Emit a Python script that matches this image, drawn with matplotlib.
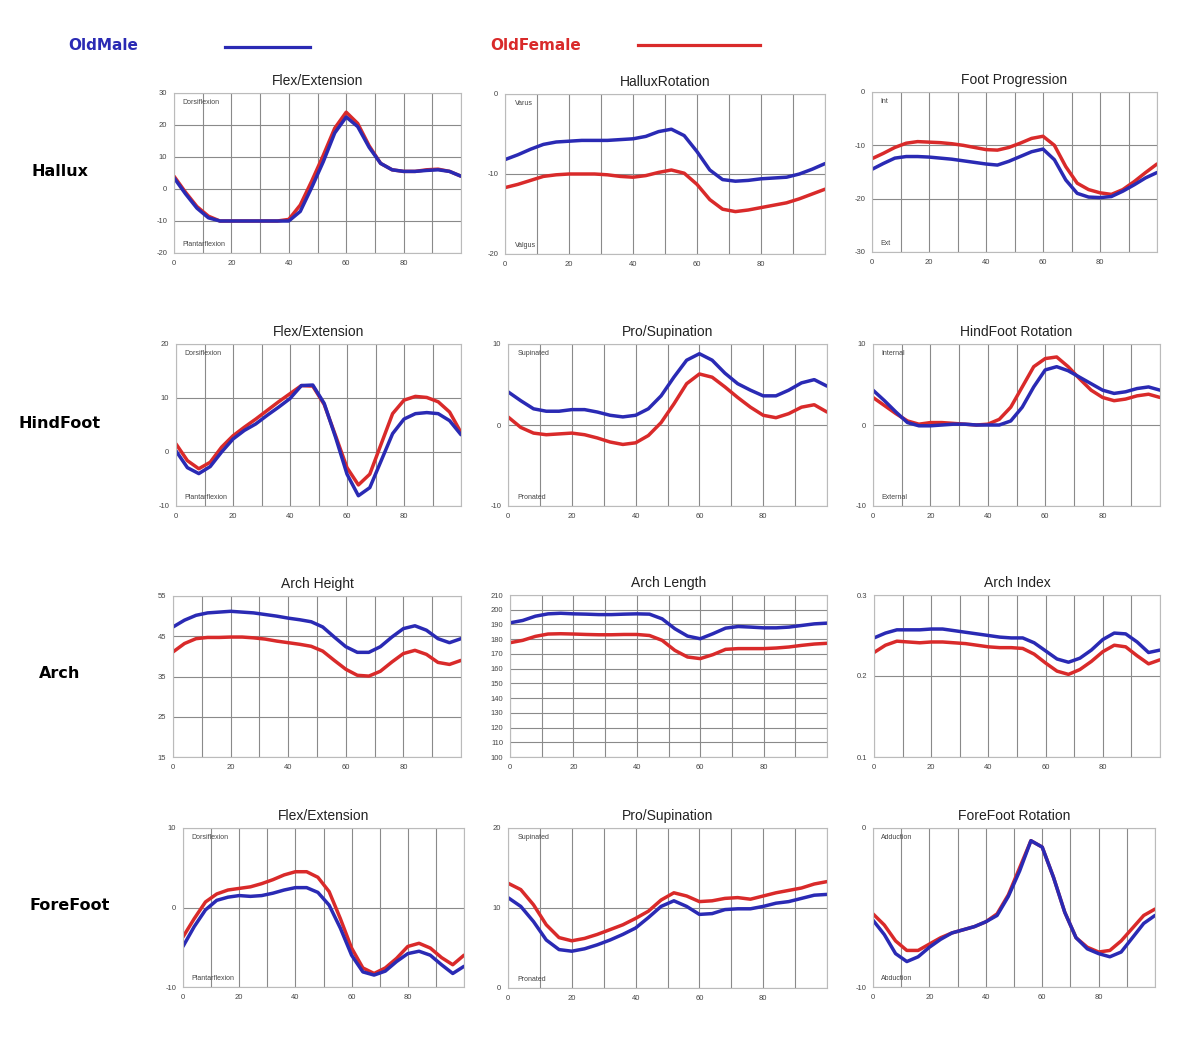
import matplotlib.pyplot as plt
from matplotlib.ticker import FuncFormatter

# gait cycle (%)
x = list(range(0, 101, 4))

# ---- Hallux ----
hallux_flex_male = [3.5, -1.5, -6, -9, -10, -10, -10, -10, -10, -10, -10, -7, 0.5, 8.5, 17.5, 22.5,
                    19.5, 13, 8, 6, 5.5, 5.5, 5.8, 6, 5.5, 4]
hallux_flex_female = [4, -1, -5.5, -8.5, -10, -10, -10, -10, -10, -10, -9.5, -5, 2.5, 10.5, 19, 24,
                      20.5, 13.5, 8, 6, 5.5, 5.5, 6, 6.2, 5.5, 4]
hallux_rot_male = [-8.2, -7.6, -6.9, -6.3, -6.0, -5.9, -5.8, -5.8, -5.8, -5.7, -5.6, -5.3, -4.7, -4.4,
                   -5.2, -7.2, -9.5, -10.7, -10.9, -10.8, -10.6, -10.5, -10.4, -10.0, -9.4, -8.7]
hallux_rot_female = [-11.7, -11.3, -10.8, -10.3, -10.1, -10.0, -10.0, -10.0, -10.1, -10.3, -10.4, -10.2,
                     -9.8, -9.5, -9.9, -11.3, -13.2, -14.4, -14.7, -14.5, -14.2, -13.9, -13.6, -13.1,
                     -12.5, -11.9]
foot_prog_male = [-14.5, -13.4, -12.4, -12.1, -12.1, -12.2, -12.4, -12.6, -12.9, -13.2, -13.5, -13.7,
                  -13.0, -12.1, -11.2, -10.7, -12.7, -16.5, -19.0, -19.7, -19.8, -19.6, -18.6, -17.4,
                  -16.1, -15.1]
foot_prog_female = [-12.5, -11.5, -10.4, -9.6, -9.3, -9.4, -9.5, -9.7, -10.0, -10.4, -10.8, -10.9,
                    -10.4, -9.6, -8.7, -8.3, -10.0, -14.0, -17.1, -18.3, -18.9, -19.2, -18.3, -16.8,
                    -15.1, -13.5]

# ---- HindFoot ----
hind_flex_male = [0.2, -2.9, -4.0, -2.7, 0, 2.4, 4.0, 5.2, 6.8, 8.3, 9.9, 12.3, 12.4, 9.0, 2.7, -4.1,
                  -8.1, -6.6, -1.6, 3.4, 6.1, 7.1, 7.3, 7.1, 5.8, 3.2]
hind_flex_female = [1.5, -1.6, -3.1, -1.9, 0.9, 3.0, 4.6, 6.1, 7.7, 9.3, 10.8, 12.3, 12.2, 8.8, 3.0, -2.9,
                    -6.1, -4.1, 1.5, 7.1, 9.6, 10.3, 10.1, 9.3, 7.4, 3.6]
hind_pro_male = [4.1, 3.0, 2.0, 1.7, 1.7, 1.9, 1.9, 1.6, 1.2, 1.0, 1.2, 2.0, 3.6, 5.9, 8.0, 8.8, 8.0,
                 6.4, 5.1, 4.3, 3.6, 3.6, 4.3, 5.2, 5.6, 4.8]
hind_pro_female = [1.0, -0.3, -1.0, -1.2, -1.1, -1.0, -1.2, -1.6, -2.1, -2.4, -2.2, -1.3, 0.3, 2.6, 5.1,
                   6.3, 5.9, 4.7, 3.4, 2.2, 1.2, 0.9, 1.4, 2.2, 2.5, 1.6]
hind_rot_male = [4.3, 3.0, 1.6, 0.3, -0.1, -0.1, 0.0, 0.1, 0.1, 0.0, 0.0, 0.0, 0.5, 2.2, 4.7, 6.8, 7.2,
                 6.7, 5.9, 5.1, 4.3, 3.9, 4.1, 4.5, 4.7, 4.3]
hind_rot_female = [3.4, 2.4, 1.4, 0.5, 0.1, 0.3, 0.3, 0.2, 0.1, 0.0, 0.1, 0.7, 2.2, 4.7, 7.2, 8.2, 8.4,
                   7.2, 5.7, 4.3, 3.4, 3.0, 3.2, 3.6, 3.8, 3.4]

# ---- Arch ----
arch_height_male = [47.3, 49.0, 50.2, 50.8, 51.0, 51.2, 51.0, 50.8, 50.4, 50.0, 49.5, 49.1, 48.6, 47.3,
                    44.8, 42.4, 41.0, 41.0, 42.4, 44.8, 46.9, 47.6, 46.5, 44.4, 43.4, 44.4]
arch_height_female = [41.1, 43.2, 44.4, 44.7, 44.7, 44.8, 44.8, 44.6, 44.3, 43.8, 43.4, 43.0, 42.5, 41.3,
                      39.0, 36.8, 35.3, 35.1, 36.3, 38.6, 40.7, 41.5, 40.5, 38.5, 38.0, 39.0]
arch_length_male = [191.1, 192.7, 195.6, 197.2, 197.6, 197.2, 197.0, 196.7, 196.7, 197.0, 197.2, 197.0,
                    193.8, 187.1, 182.1, 180.3, 183.7, 187.5, 188.6, 188.2, 187.7, 187.7, 188.2, 189.3,
                    190.4, 190.9]
arch_length_female = [177.6, 179.2, 181.9, 183.5, 183.7, 183.5, 183.2, 183.0, 183.0, 183.2, 183.2, 182.5,
                      179.2, 172.4, 167.9, 166.8, 169.5, 173.1, 173.6, 173.6, 173.6, 174.0, 174.7, 175.8,
                      176.7, 177.2]
arch_index_male = [0.247, 0.253, 0.257, 0.257, 0.257, 0.258, 0.258, 0.256, 0.254, 0.252, 0.250, 0.248,
                   0.247, 0.247, 0.241, 0.231, 0.221, 0.217, 0.222, 0.232, 0.245, 0.253, 0.252, 0.242,
                   0.229, 0.232]
arch_index_female = [0.229, 0.238, 0.243, 0.242, 0.241, 0.242, 0.242, 0.241, 0.240, 0.238, 0.236, 0.235,
                     0.235, 0.234, 0.227, 0.216, 0.206, 0.202, 0.208, 0.218, 0.230, 0.238, 0.236, 0.225,
                     0.215, 0.220]

# ---- ForeFoot ----
fore_flex_male = [-4.9, -2.4, -0.3, 0.9, 1.3, 1.5, 1.4, 1.5, 1.8, 2.2, 2.5, 2.5, 1.9, 0.3, -2.6, -6.0,
                  -8.1, -8.5, -8.0, -6.8, -5.8, -5.5, -6.0, -7.2, -8.3, -7.4]
fore_flex_female = [-3.7, -1.4, 0.7, 1.7, 2.2, 2.4, 2.6, 3.0, 3.5, 4.1, 4.5, 4.5, 3.8, 2.0, -1.4, -5.1,
                    -7.6, -8.3, -7.6, -6.4, -4.9, -4.5, -5.1, -6.3, -7.2, -6.0]
fore_pro_male = [11.3, 10.2, 8.3, 6.0, 4.8, 4.6, 4.9, 5.4, 6.0, 6.7, 7.5, 8.8, 10.2, 10.9, 10.2, 9.2,
                 9.3, 9.8, 9.9, 9.9, 10.2, 10.6, 10.8, 11.2, 11.6, 11.7]
fore_pro_female = [13.1, 12.3, 10.4, 7.9, 6.3, 5.9, 6.2, 6.7, 7.3, 7.9, 8.7, 9.6, 11.0, 11.9, 11.5, 10.8,
                   10.9, 11.2, 11.3, 11.1, 11.5, 11.9, 12.2, 12.5, 13.0, 13.3]
fore_rot_male = [-5.8, -6.7, -7.9, -8.4, -8.1, -7.5, -7.0, -6.6, -6.4, -6.2, -5.9, -5.5, -4.3, -2.7, -0.8,
                 -1.2, -3.1, -5.3, -6.9, -7.6, -7.9, -8.1, -7.8, -6.9, -6.0, -5.5]
fore_rot_female = [-5.4, -6.1, -7.1, -7.7, -7.7, -7.3, -6.9, -6.6, -6.4, -6.2, -5.9, -5.4, -4.2, -2.5,
                   -0.8, -1.2, -3.1, -5.3, -6.9, -7.5, -7.8, -7.7, -7.1, -6.3, -5.5, -5.1]

row_labels = ["Hallux", "HindFoot", "Arch", "ForeFoot"]

titles = ["Flex/Extension", "HalluxRotation", "Foot Progression",
          "Flex/Extension", "Pro/Supination", "HindFoot Rotation",
          "Arch Height", "Arch Length", "Arch Index",
          "Flex/Extension", "Pro/Supination", "ForeFoot Rotation"]
top_notes = ["Dorsiflexion", "Varus", "Int", "Dorsiflexion", "Supinated", "Internal",
             "", "", "", "Dorsiflexion", "Supinated", "Adduction"]
bottom_notes = ["Plantarflexion", "Valgus", "Ext", "Plantarflexion", "Pronated", "External",
                "", "", "", "Plantarflexion", "Pronated", "Abduction"]
y_ticks = [[-20, -10, 0, 10, 20, 30], [-20, -10, 0], [-30, -20, -10, 0],
           [-10, 0, 10, 20], [-10, 0, 10], [-10, 0, 10],
           [15, 25, 35, 45, 55], list(range(100, 211, 10)), [0.1, 0.2, 0.3],
           [-10, 0, 10], [0, 10, 20], [-10, 0]]
male = [hallux_flex_male, hallux_rot_male, foot_prog_male,
        hind_flex_male, hind_pro_male, hind_rot_male,
        arch_height_male, arch_length_male, arch_index_male,
        fore_flex_male, fore_pro_male, fore_rot_male]
female = [hallux_flex_female, hallux_rot_female, foot_prog_female,
          hind_flex_female, hind_pro_female, hind_rot_female,
          arch_height_female, arch_length_female, arch_index_female,
          fore_flex_female, fore_pro_female, fore_rot_female]

# axes boxes in pixels (left, top, right, bottom) on the 1200x1048 canvas
boxes = [(174, 93, 461, 253), (505, 94, 825, 254), (872, 92, 1157, 252),
         (176, 344, 461, 506), (508, 344, 827, 506), (873, 344, 1160, 506),
         (173, 596, 461, 757), (510, 595, 827, 757), (874, 595, 1160, 757),
         (183, 828, 464, 987), (508, 828, 827, 988), (873, 828, 1155, 987)]

BLUE = "#2a2ab4"
RED = "#d92a2a"
W, H = 1200, 1048

plt.rcParams['font.family'] = ['Liberation Sans', 'DejaVu Sans']
fig = plt.figure(figsize=(12, 10.48), dpi=100)


def xfmt(v, pos):
    return "%d" % v if v % 20 == 0 and v < 100 else ""


for i in range(12):
    l, t, r, b = boxes[i]
    ax = fig.add_axes([l / W, 1 - b / H, (r - l) / W, (b - t) / H])
    ax.plot(x, female[i], color=RED, lw=2.5, solid_capstyle='round', solid_joinstyle='round')
    ax.plot(x, male[i], color=BLUE, lw=2.5, solid_capstyle='round', solid_joinstyle='round')
    yt = y_ticks[i]
    ax.set_xlim(0, 100)
    ax.set_ylim(yt[0], yt[-1])
    ax.set_xticks(range(0, 101, 10))
    ax.xaxis.set_major_formatter(FuncFormatter(xfmt))
    ax.set_yticks(yt)
    ax.set_yticklabels(["%g" % v for v in yt])
    ax.tick_params(length=0, labelsize=5.5, labelcolor="#444444", pad=5)
    ax.grid(True, color="#8a8a8a", lw=0.8)
    ax.set_axisbelow(True)
    for s in ax.spines.values():
        s.set_color("#bbbbbb")
        s.set_linewidth(0.8)
    ax.set_title(titles[i], fontsize=10, color="#222222", pad=6)
    if top_notes[i]:
        ax.text(0.03, 0.96, top_notes[i], transform=ax.transAxes, fontsize=5,
                color="#444444", va="top", ha="left")
        ax.text(0.03, 0.03, bottom_notes[i], transform=ax.transAxes, fontsize=5,
                color="#444444", va="bottom", ha="left")

# row labels
row_y = [172, 423, 674, 905]
row_x = [60, 60, 60, 70]
for lab, rx, ry in zip(row_labels, row_x, row_y):
    fig.text(rx / W, 1 - ry / H, lab, fontsize=11.5, fontweight="bold",
             ha="center", va="center", family=["DejaVu Sans"])

# legend at the top
fig.text(68 / W, 1 - 46 / H, "OldMale", color=BLUE, fontsize=11, fontweight="bold",
         va="center", family=["DejaVu Sans"])
fig.add_artist(plt.Line2D([225 / W, 310 / W], [1 - 47 / H, 1 - 47 / H], color=BLUE, lw=2.3))
fig.text(490 / W, 1 - 46 / H, "OldFemale", color=RED, fontsize=11, fontweight="bold",
         va="center", family=["DejaVu Sans"])
fig.add_artist(plt.Line2D([638 / W, 760 / W], [1 - 45 / H, 1 - 45 / H], color=RED, lw=2.3))

fig.savefig("out.png", dpi=100)
